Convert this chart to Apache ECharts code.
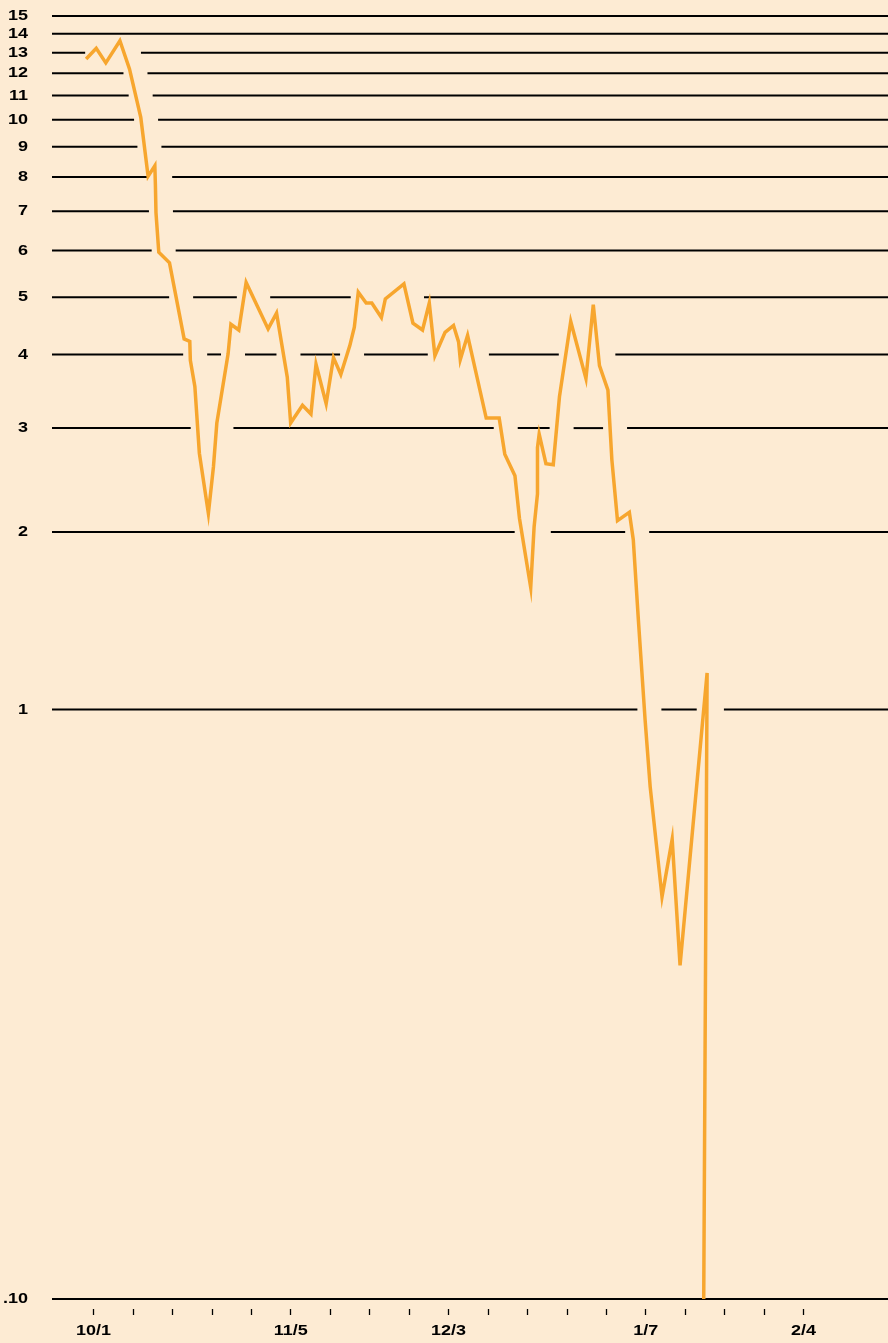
<!DOCTYPE html>
<html>
<head>
<meta charset="utf-8">
<title>Share price, October to February</title>
<script src="https://cdn.jsdelivr.net/npm/echarts@6/dist/echarts.min.js"></script>
<style>
  html, body { margin: 0; padding: 0; background: #FDEBD3; }
  #chart { width: 888px; height: 1343px; }
</style>
</head>
<body>
<div id="chart"></div>
<script>
// Trading days, counted in days from Oct. 1
const dayOffsets = [
  -1.3, 0.5, 2.2, 4.7, 6.4, 8.4, 9.7, 10.9, 11.0, 11.1, 11.6, 13.5,
  16.1, 17.1, 17.2, 18.0, 18.8, 20.4, 21.3, 21.9, 23.9, 24.4, 25.8, 27.1,
  31.0, 32.5, 34.4, 35.0, 37.1, 38.6, 39.5, 41.3, 42.6, 43.9, 45.5, 46.3,
  47.0, 48.4, 49.4, 51.1, 51.8, 55.1, 56.7, 58.4, 59.6, 60.6, 62.4, 63.9,
  64.8, 65.1, 66.4, 69.7, 72.0, 73.0, 74.8, 75.6, 77.6, 78.2, 78.8, 78.8,
  79.1, 80.3, 81.6, 82.7, 84.7, 87.4, 88.7, 89.8, 91.3, 92.0, 93.0, 95.1,
  95.8, 96.7, 97.9, 98.8, 100.9, 102.7, 104.1, 108.9, 108.3
];
// Closing price, dollars
const prices = [
  12.68, 13.22, 12.49, 13.62, 12.20, 10.10, 8.02, 8.36, 7.74, 6.96, 5.96, 5.72,
  4.25, 4.21, 3.91, 3.53, 2.72, 2.15, 2.58, 3.06, 4.01, 4.50, 4.40, 5.30,
  4.42, 4.70, 3.66, 3.06, 3.28, 3.17, 3.85, 3.30, 3.95, 3.70, 4.14, 4.45,
  5.10, 4.89, 4.89, 4.62, 4.97, 5.27, 4.52, 4.40, 4.89, 3.98, 4.36, 4.48,
  4.20, 3.92, 4.31, 3.12, 3.12, 2.71, 2.49, 2.11, 1.61, 2.04, 2.32, 2.78,
  2.93, 2.61, 2.60, 3.39, 4.55, 3.64, 4.86, 3.83, 3.48, 2.65, 2.09, 2.16,
  1.94, 1.42, 0.959, 0.739, 0.481, 0.602, 0.368, 1.153, 0.10
];

// Horizontal rules of the log price scale and their labels
const gridValues = [15, 14, 13, 12, 11, 10, 9, 8, 7, 6, 5, 4, 3, 2, 1, 0.1];
const gridLabels = ['15', '14', '13', '12', '11', '10', '9', '8', '7', '6', '5', '4', '3', '2', '1', '.10'];

// Weekly ticks and the dated labels under the time axis
const tickDays = [0, 7, 14, 21, 28, 35, 42, 49, 56, 63, 70, 77, 84, 91, 98, 105, 112, 119, 126];
const labelDays = [0, 35, 63, 98, 126];
const labelTexts = ['10/1', '11/5', '12/3', '1/7', '2/4'];

const BG = '#FDEBD3';
const LINE_COLOR = '#F7A62E';
const FONT = '"Liberation Sans", Arial, Helvetica, sans-serif';
const LABEL_FONT = 'bold 15px ' + FONT;
const LABEL_STRETCH = 1.2;   // wide lettering of the scale labels

// Each rule is broken where the price line passes through it
const GAP_BEFORE = 7;
const GAP_AFTER = 17;
const MIN_PIECE = 6;         // leftover bits shorter than this are dropped

function renderRule(params, api) {
  const idx = params.dataIndex;
  const value = api.value(1);
  const cs = params.coordSys;
  const y = api.coord([0, value])[1];
  const pts = dayOffsets.map((d, i) => api.coord([d, prices[i]]));

  const gaps = [];
  for (let i = 0; i < pts.length - 1; i++) {
    const a = pts[i], b = pts[i + 1];
    const da = a[1] - y, db = b[1] - y;
    if (da * db < 0) {
      const t = da / (da - db);
      const xc = a[0] + t * (b[0] - a[0]);
      gaps.push([xc - GAP_BEFORE, xc + GAP_AFTER]);
    }
  }
  gaps.sort((p, q) => p[0] - q[0]);
  const merged = [];
  gaps.forEach(g => {
    const last = merged[merged.length - 1];
    if (last && g[0] <= last[1]) last[1] = Math.max(last[1], g[1]);
    else merged.push(g.slice());
  });

  const x0 = cs.x, x1 = cs.x + cs.width;
  const segs = [];
  let cur = x0;
  merged.forEach(g => {
    if (g[0] > cur) segs.push([cur, Math.min(g[0], x1)]);
    cur = Math.max(cur, g[1]);
  });
  if (cur < x1) segs.push([cur, x1]);

  const children = segs
    .filter(s => s[1] - s[0] >= MIN_PIECE)
    .map(s => ({
      type: 'line',
      shape: { x1: s[0], y1: y, x2: s[1], y2: y },
      style: { stroke: '#000', lineWidth: 2 }
    }));
  children.push({
    type: 'text',
    x: cs.x - 24,
    y: y,
    scaleX: LABEL_STRETCH,
    style: {
      text: gridLabels[idx],
      x: 0,
      y: 0,
      align: 'right',
      verticalAlign: 'middle',
      fill: '#000',
      font: LABEL_FONT
    }
  });
  return { type: 'group', children: children };
}

// Date labels under the weekly ticks
function renderDateLabel(params, api) {
  const p = api.coord([api.value(0), 0.1]);
  return {
    type: 'text',
    x: p[0],
    y: p[1] + 32,
    scaleX: LABEL_STRETCH,
    style: {
      text: labelTexts[params.dataIndex],
      x: 0,
      y: 0,
      align: 'center',
      verticalAlign: 'middle',
      fill: '#000',
      font: LABEL_FONT
    }
  };
}

const chart = echarts.init(document.getElementById('chart'), null, { renderer: 'canvas' });

chart.setOption({
  animation: false,
  backgroundColor: BG,
  grid: { left: 52, right: 0, top: 16, bottom: 44 },
  xAxis: {
    type: 'value',
    min: -7.35,
    max: 141,
    offset: 10,
    axisLine: { show: false },
    splitLine: { show: false },
    axisTick: {
      show: true,
      customValues: tickDays,
      length: 6,
      lineStyle: { color: '#000', width: 1.3 }
    },
    axisLabel: { show: false }
  },
  yAxis: {
    type: 'log',
    logBase: 10,
    min: 0.1,
    max: 15,
    axisLine: { show: false },
    axisTick: { show: false },
    axisLabel: { show: false },
    splitLine: { show: false }
  },
  series: [
    {
      type: 'custom',
      name: 'rules',
      z: 1,
      clip: false,
      renderItem: renderRule,
      encode: { x: 0, y: 1 },
      data: gridValues.map(v => [0, v])
    },
    {
      type: 'custom',
      name: 'dates',
      z: 1,
      clip: false,
      renderItem: renderDateLabel,
      encode: { x: 0, y: 1 },
      data: labelDays.map(d => [d, 0.1])
    },
    {
      type: 'line',
      name: 'price',
      z: 3,
      clip: false,
      showSymbol: false,
      symbol: 'none',
      lineStyle: { color: LINE_COLOR, width: 3.5, join: 'miter' },
      data: dayOffsets.map((d, i) => [d, prices[i]])
    }
  ]
});
</script>
</body>
</html>
